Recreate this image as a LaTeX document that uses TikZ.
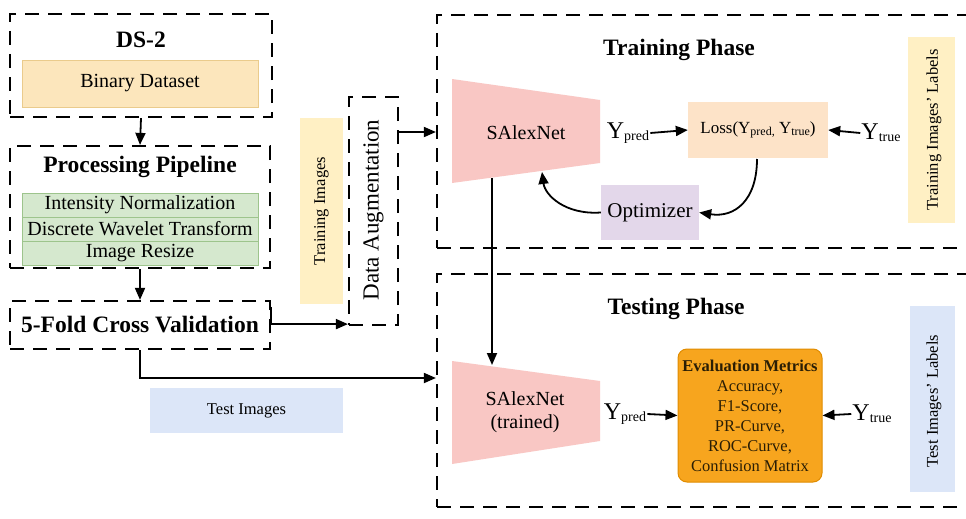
\documentclass[tikz,border=0pt]{standalone}
\usepackage{fontspec}
\setmainfont{Liberation Serif}
\usetikzlibrary{arrows.meta,calc}
\definecolor{binfill}{HTML}{FCE6BC}
\definecolor{bindraw}{HTML}{EACB8C}
\definecolor{grnfill}{HTML}{D5E8CE}
\definecolor{grndraw}{HTML}{9DC48C}
\definecolor{yelfill}{HTML}{FFF0C4}
\definecolor{pinkfill}{HTML}{F9C7C4}
\definecolor{peachfill}{HTML}{FDE3C8}
\definecolor{purpfill}{HTML}{E3D7EA}
\definecolor{orgfill}{HTML}{F7A51E}
\definecolor{orgdraw}{HTML}{E08C00}
\definecolor{bluefill}{HTML}{DCE6F8}
\definecolor{evaltext}{HTML}{2A1E05}
\newcommand\fsz[2]{\fontsize{#1}{#2}\selectfont}
\newcommand\Ysb[3]{Y\raisebox{-#3}{\fsz{#2}{#2}#1}}
\begin{document}
\begin{tikzpicture}[x=1pt,y=-1pt,
  dbox/.style={draw=black, line width=2.2pt, dash pattern=on 14pt off 9pt, inner sep=0pt},
  fbox/.style={inner sep=0pt, align=center},
  arr/.style={line width=1.8pt, -{Triangle[length=12pt,width=10pt]}},
  ttl/.style={font=\fsz{23.5}{26}\bfseries},
  lbl/.style={font=\fsz{20}{23}},
  sml/.style={font=\fsz{16.5}{19}},
  ylbl/.style={font=\fsz{24}{26}, inner sep=1pt}
]
\useasboundingbox (0,0) rectangle (966,519);
\clip (0,0) rectangle (966,519);
\fill[white] (0,0) rectangle (966,519);

% ---- left column
\node[dbox, minimum width=262pt, minimum height=103pt] (ds2) at (141,65.5) {};
\node[ttl] (ds2t) at (141,40) {DS-2};
\node[fbox, fill=binfill, draw=bindraw, line width=0.8pt, minimum width=236pt, minimum height=47pt, lbl] (bin) at (140,83.5) {Binary Dataset};

\node[dbox, minimum width=260pt, minimum height=122pt] (pipe) at (140,207) {};
\node[ttl] (pipet) at (140,167) {Processing Pipeline};
\node[fbox, fill=grnfill, draw=grndraw, line width=0.8pt, minimum width=236pt, minimum height=24pt, lbl] (g1) at (140,205) {Intensity Normalization};
\node[fbox, fill=grnfill, draw=grndraw, line width=0.8pt, minimum width=236pt, minimum height=24pt, lbl] (g2) at (140,229) {Discrete Wavelet Transform};
\node[fbox, fill=grnfill, draw=grndraw, line width=0.8pt, minimum width=236pt, minimum height=24pt, lbl] (g3) at (140,253) {Image Resize};

\node[dbox, minimum width=260pt, minimum height=48pt] (fold) at (140,325) {};
\node[ttl] (foldt) at (140,325) {5-Fold Cross Validation};

\node[fbox, fill=yelfill, minimum width=43pt, minimum height=186pt] (trimg) at (321.5,211) {};
\node[rotate=90, sml] (trimgt) at (321.5,211) {Training Images};

\node[dbox, minimum width=49pt, minimum height=228pt] (da) at (373.5,211) {};
\node[rotate=90, font=\fsz{23}{25}] (dat) at (373.5,210) {Data Augmentation};

\node[fbox, fill=bluefill, minimum width=193pt, minimum height=45pt, sml] (testimg) at (246.5,410.5) {Test Images};

% ---- training phase
\node[dbox, minimum width=553pt, minimum height=233pt] (train) at (713.5,131.5) {};
\node[ttl] (traint) at (679,50) {Training Phase};
\fill[pinkfill] (452,79) -- (600,100) -- (600,163) -- (452,183) -- cycle;
\node[lbl] (sa1) at (526,133) {SAlexNet};
\node[ylbl] (yp1) at (628,133) {\Ysb{pred}{14}{2pt}};
\node[fbox, fill=peachfill, minimum width=140pt, minimum height=56pt, font=\fsz{17}{20}] (loss) at (758,130) {Loss(\Ysb{pred,}{12}{1.5pt} \Ysb{true}{12}{1.5pt})};
\node[ylbl] (yt1) at (881,133) {\Ysb{true}{14}{2pt}};
\node[fbox, fill=yelfill, minimum width=47pt, minimum height=186pt] (trlab) at (931.5,130) {};
\node[rotate=90, sml] (trlabt) at (934,130) {Training Images’ Labels};
\node[fbox, fill=purpfill, minimum width=98pt, minimum height=55pt, font=\fsz{21}{24}] (opt) at (650,212.5) {Optimizer};
\coordinate (sa1b) at (492,178);
\coordinate (sa1r) at (542,172);
\coordinate (lossb) at (757,159);

% ---- testing phase
\node[dbox, minimum width=553pt, minimum height=233pt] (test) at (713.5,390.5) {};
\node[ttl] (testt) at (676,309) {Testing Phase};
\fill[pinkfill] (452,361) -- (600,381) -- (600,441) -- (452,464) -- cycle;
\node[lbl, align=center] (sa2) at (525,412) {SAlexNet\\(trained)};
\coordinate (sa2t) at (492,365);
\node[ylbl] (yp2) at (625,414) {\Ysb{pred}{14}{2pt}};
\node[fbox, fill=orgfill, draw=orgdraw, line width=1pt, rounded corners=9pt, minimum width=144pt, minimum height=133pt, font=\fsz{16.5}{20}, text=evaltext] (eval) at (750,415.5) {{\bfseries Evaluation Metrics}\\Accuracy,\\F1-Score,\\PR-Curve,\\ROC-Curve,\\Confusion Matrix};
\node[ylbl] (yt2) at (872,414) {\Ysb{true}{14}{2pt}};
\node[fbox, fill=bluefill, minimum width=45pt, minimum height=186pt] (telab) at (932.5,399) {};
\node[rotate=90, sml] (telabt) at (934,401) {Test Images’ Labels};

% ---- connectors
\coordinate (y132) at (0,132);
\coordinate (y378) at (0,378);
\draw[arr] (ds2.south) -- (pipe.north);
\draw[arr] (pipe.south) -- (fold.north);
\draw[arr] ([yshift=-7pt]fold.north east) |- ([yshift=2pt]da.south west);
\draw[arr] (da.east |- y132) -- (train.west |- y132);
\draw[arr] (fold.south) |- (test.west |- y378);
\draw[arr] (yp1.east) -- (loss.west);
\draw[arr] (yt1.west) -- (loss.east);
\draw[arr] (lossb) .. controls (757,200) and (735,218) .. (opt.east);
\draw[arr] (opt.west) .. controls (565,215) and (545,195) .. (sa1r);
\draw[arr] (sa1b) -- (sa2t);
\draw[arr] (yp2.east) -- (eval.west);
\draw[arr] (yt2.west) -- (eval.east);
\end{tikzpicture}
\end{document}
